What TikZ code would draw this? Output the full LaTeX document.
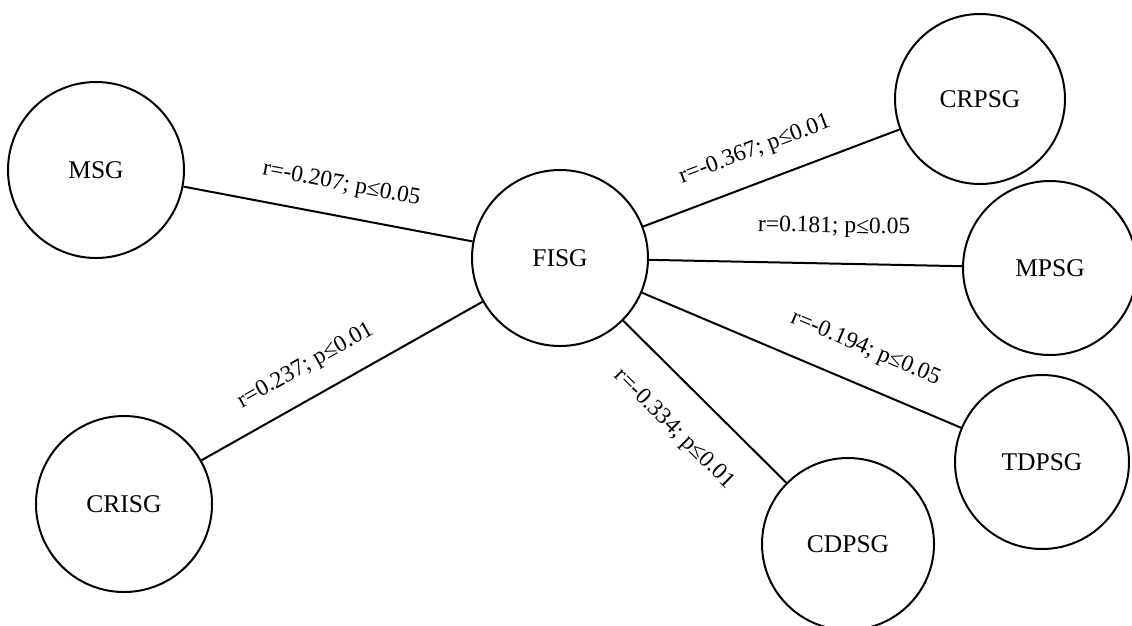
\documentclass[tikz,border=0pt]{standalone}
\usepackage{fontspec}
\setmainfont{Liberation Serif}
\begin{document}
\begin{tikzpicture}[x=1pt,y=-1pt,
  circ/.style={circle,draw=black,line width=2pt,inner sep=0pt,font=\fontsize{25.5}{30}\selectfont},
  conn/.style={line width=2pt,draw=black},
  lbl/.style={sloped,inner sep=0pt,text height=16pt,text depth=5pt,font=\fontsize{23.5}{28}\selectfont}]
\useasboundingbox (0,0) rectangle (1132,625);
\node[circ,minimum size=176pt] (msg) at (96,170) {MSG};
\node[circ,minimum size=176pt] (crisg) at (124,504) {CRISG};
\node[circ,minimum size=176pt] (fisg) at (560,258) {FISG};
\node[circ,minimum size=170pt] (crpsg) at (980,99) {CRPSG};
\node[circ,minimum size=174pt] (mpsg) at (1050,268) {MPSG};
\node[circ,minimum size=174pt] (tdpsg) at (1042,462) {TDPSG};
\node[circ,minimum size=172pt] (cdpsg) at (848,544) {CDPSG};
\draw[conn] (msg) -- node[lbl,pos=0.526,above=20pt] {r=-0.207; p≤0.05} (fisg);
\draw[conn] (crisg) -- node[lbl,pos=0.425,above=19.5pt] {r=0.237; p≤0.01} (fisg);
\draw[conn] (fisg) -- node[lbl,pos=0.48,above=20.5pt] {r=-0.367; p≤0.01} (crpsg);
\draw[conn] (fisg) -- node[lbl,pos=0.589,above=25pt] {r=0.181; p≤0.05} (mpsg);
\draw[conn] (fisg) -- node[lbl,pos=0.657,above=24pt] {r=-0.194; p≤0.05} (tdpsg);
\draw[conn] (fisg) -- node[lbl,pos=0.49,below=29.5pt] {r=-0.334; p≤0.01} (cdpsg);
\end{tikzpicture}
\end{document}
